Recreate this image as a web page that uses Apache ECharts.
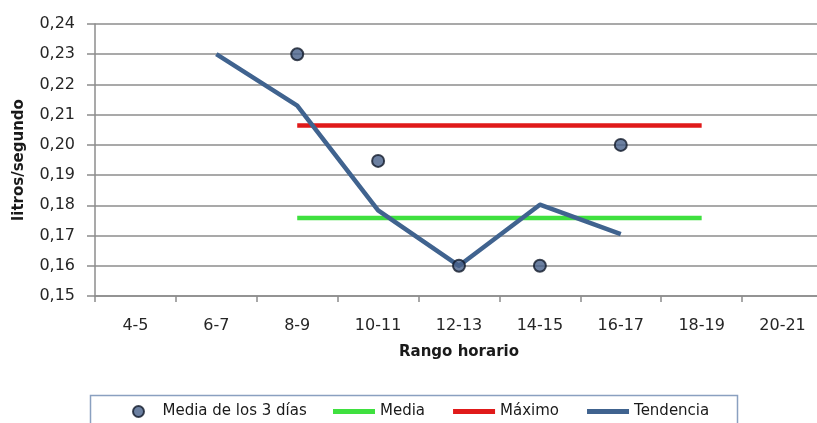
<!DOCTYPE html>
<html>
<head>
<meta charset="utf-8">
<script src="https://cdn.jsdelivr.net/npm/echarts@6/dist/echarts.min.js"></script>
<style>
html,body{margin:0;padding:0;background:#fff;}
#chart{width:817px;height:423px;}
</style>
</head>
<body>
<div id="chart"></div>
<script>
const categories = ['4-5','6-7','8-9','10-11','12-13','14-15','16-17','18-19','20-21'];
const mediaTresDias = [null, null, 0.230, 0.1947, 0.160, 0.160, 0.200, null, null];
const media = [null, null, 0.1758, 0.1758, 0.1758, 0.1758, 0.1758, 0.1758, null];
const maximo = [null, null, 0.2064, 0.2064, 0.2064, 0.2064, 0.2064, 0.2064, null];
const tendencia = [null, 0.230, 0.213, 0.1783, 0.160, 0.1802, 0.1705, null, null];
const yMin = 0.15, yMax = 0.24, yStep = 0.01;

const FONT = 'DejaVu Sans';
const chart = echarts.init(document.getElementById('chart'));
chart.setOption({
  animation: false,
  backgroundColor: '#ffffff',
  grid: { left: 95, width: 728, top: 24, height: 272, containLabel: false, outerBoundsMode: 'none' },
  xAxis: {
    type: 'category',
    data: categories,
    boundaryGap: true,
    name: 'Rango horario',
    nameLocation: 'middle',
    nameGap: 49,
    nameTextStyle: { fontFamily: FONT, fontSize: 15, fontWeight: 'bold', color: '#1a1a1a' },
    axisLine: { lineStyle: { color: '#8c8c8c', width: 1.5 } },
    axisTick: { show: true, interval: 0, length: 6, lineStyle: { color: '#8c8c8c', width: 1.5 } },
    axisLabel: { interval: 0, margin: 22, fontFamily: FONT, fontSize: 16, color: '#262626' },
    splitLine: { show: false }
  },
  yAxis: {
    type: 'value',
    min: yMin, max: yMax, interval: yStep,
    name: 'litros/segundo',
    nameLocation: 'middle',
    nameGap: 68,
    nameTextStyle: { fontFamily: FONT, fontSize: 15, fontWeight: 'bold', color: '#1a1a1a' },
    axisLine: { show: true, lineStyle: { color: '#8c8c8c', width: 1.5 } },
    axisTick: { show: true, length: 8, lineStyle: { color: '#8c8c8c', width: 1.5 } },
    axisLabel: { margin: 20, fontFamily: FONT, fontSize: 16, color: '#262626',
      formatter: v => v.toFixed(2).replace('.', ',') },
    splitLine: { show: true, lineStyle: { color: '#8c8c8c', width: 1.5 } }
  },
  graphic: [{
    type: 'rect', left: 88, top: 393, silent: true,
    shape: { width: 647, height: 50 },
    style: { fill: 'none', stroke: '#8aa0c0', lineWidth: 1.5 }
  }],
  legend: [{
    left: 132, top: 404, padding: 0,
    itemWidth: 38, itemHeight: 11,
    data: [{ name: 'Media de los 3 días', icon: 'circle' }],
    textStyle: { fontFamily: FONT, fontSize: 15, color: '#1a1a1a' }
  }, {
    left: 333, top: 404, padding: 0,
    itemWidth: 42, itemHeight: 5, itemGap: 28,
    data: [{ name: 'Media', icon: 'rect' }, { name: 'Máximo', icon: 'rect' }, { name: 'Tendencia', icon: 'rect' }],
    textStyle: { fontFamily: FONT, fontSize: 15, color: '#1a1a1a' }
  }],
  series: [{
    name: 'Media', type: 'line', data: media, symbol: 'none', showSymbol: false,
    lineStyle: { color: '#3fe03f', width: 4.5 }, itemStyle: { color: '#3fe03f' }, z: 2
  }, {
    name: 'Máximo', type: 'line', data: maximo, symbol: 'none', showSymbol: false,
    lineStyle: { color: '#e01a1a', width: 4.5 }, itemStyle: { color: '#e01a1a' }, z: 2
  }, {
    name: 'Tendencia', type: 'line', data: tendencia, symbol: 'none', showSymbol: false,
    lineStyle: { color: '#40638f', width: 4.5, join: 'round' }, itemStyle: { color: '#40638f' }, z: 3
  }, {
    name: 'Media de los 3 días', type: 'scatter', data: mediaTresDias, symbolSize: 12,
    itemStyle: { color: '#47608a', borderColor: '#121a2a', borderWidth: 2 }, z: 4
  }]
});
</script>
</body>
</html>
